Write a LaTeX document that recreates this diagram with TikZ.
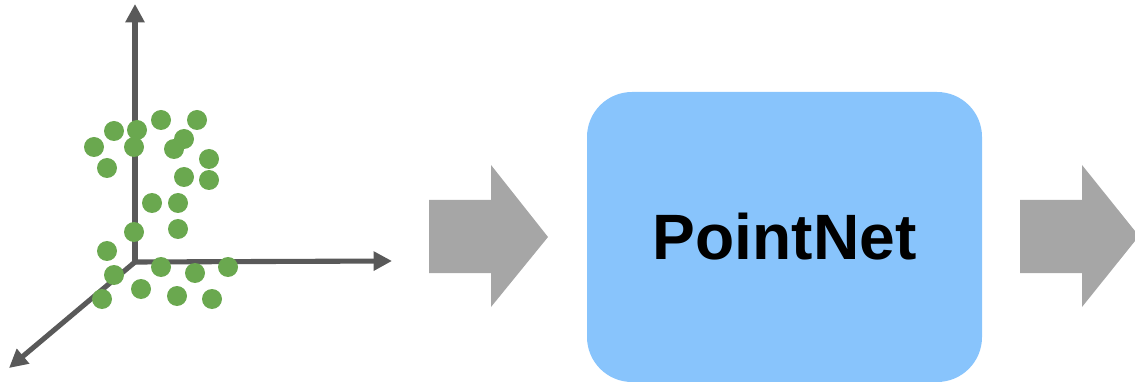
\documentclass[tikz,border=0pt]{standalone}
\usepackage{fontspec}
\setmainfont{Liberation Sans}
\usetikzlibrary{arrows.meta}
\definecolor{axisgray}{HTML}{595959}
\definecolor{ptgreen}{HTML}{6AA84F}
\definecolor{arrgray}{HTML}{A6A6A6}
\definecolor{netblue}{HTML}{88C4FC}
\begin{document}
\begin{tikzpicture}[x=0.2mm, y=-0.2mm,
    axis/.style={draw=axisgray, line width=2.9pt, -{Triangle[length=10.5pt, width=10.5pt]}},
    pt/.style={fill=ptgreen},
    blockarr/.style={fill=arrgray},
    net/.style={fill=netblue, rounded corners=9mm, inner sep=0pt, minimum width=7.9cm, minimum height=5.8cm, font=\fontsize{36.5}{44}\selectfont\bfseries},
]
\useasboundingbox (0,0) rectangle (1135,382);

% Axes
\coordinate (orig) at (135,262);
\coordinate (ytip) at (135,4);
\coordinate (xtip) at (392,261);
\coordinate (ztip) at (9,368);
\draw[axis] (orig) -- (ytip);
\draw[axis] (orig) -- (xtip);
\draw[axis] (orig) -- (ztip);

% Point cloud
\foreach \x/\y in {114/131, 137/130, 161/120, 197/120, 94/147, 134/147, 184/139, 174/149,
    209/159, 107/168, 184/177, 209/180, 152/203, 178/203, 134/232, 178/229, 107/251,
    161/267, 195/273, 228/267, 114/275, 141/289, 177/296, 212/299, 102/299}
    \fill[pt] (\x,\y) circle (2mm);

% Input arrow
\fill[blockarr] (429,200) -- (491,200) -- (491,165) -- (548,237) -- (491,307) -- (491,273) -- (429,273) -- cycle;

% Network
\node[net] (pnet) at (784.5,237) {PointNet};

% Output arrow
\fill[blockarr] (1020,200) -- (1082,200) -- (1082,165) -- (1139,236) -- (1082,307) -- (1082,273) -- (1020,273) -- cycle;
\end{tikzpicture}
\end{document}
